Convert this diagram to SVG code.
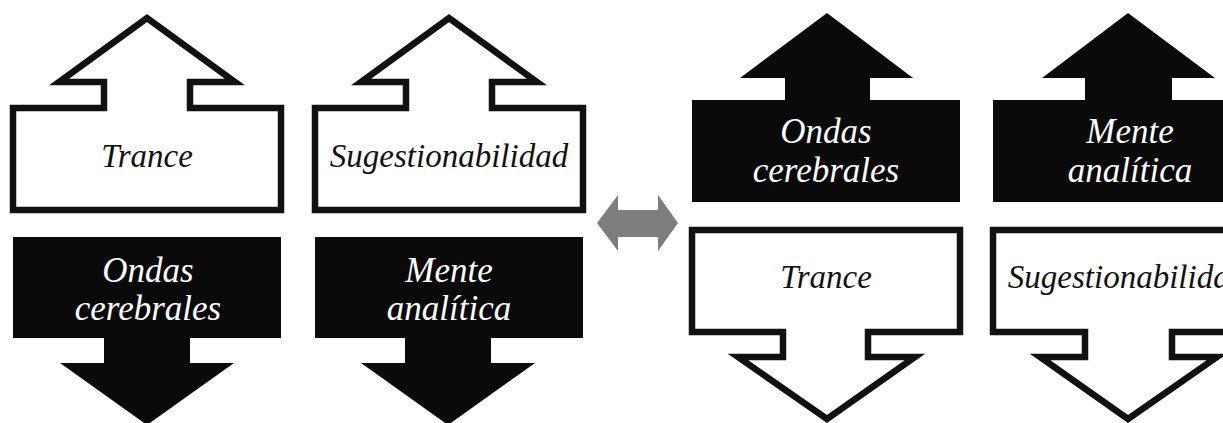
<svg xmlns="http://www.w3.org/2000/svg" width="1223" height="423" viewBox="0 0 1223 423">
<style>
.out{fill:#fff;stroke:#111;stroke-width:6.5;stroke-linejoin:miter;stroke-miterlimit:10}
.blk{fill:#0a0a0a}
.t{font-family:"Liberation Serif","Times New Roman",serif;font-style:italic;font-size:33px;text-anchor:middle}
.tb{fill:#111}
.tw{fill:#fff;font-size:35px}
</style>
<rect width="1223" height="423" fill="#fff"/>
<g id="trance-up">
<path class="out" d="M13,108 H104 V82 H59 L147,18 L235,82 H190 V108 H281 V210 H13 Z"/>
<text class="t tb" x="147" y="167">Trance</text>
</g>
<g id="sugestionabilidad-up">
<path class="out" d="M315,108 H406 V82 H361 L449,18 L537,82 H492 V108 H583 V210 H315 Z"/>
<text class="t tb" x="449" y="167">Sugestionabilidad</text>
</g>
<g id="ondas-down">
<path class="blk" d="M13,237 H281 V338 H190 V363 H234 L147,425 L60,363 H104 V338 H13 Z"/>
<text class="t tw" x="148" y="282">Ondas</text>
<text class="t tw" x="148" y="320">cerebrales</text>
</g>
<g id="mente-down">
<path class="blk" d="M315,237 H583 V338 H491 V363 H535 L448,425 L361,363 H405 V338 H315 Z"/>
<text class="t tw" x="449" y="282">Mente</text>
<text class="t tw" x="449" y="320">analítica</text>
</g>
<g id="connectors">
<path fill="#7d7d7d" d="M597,223 L618,195 V210 H658 V195 L678,223 L658,251 V237 H618 V251 Z"/>
</g>
<g id="ondas-up">
<path class="blk" d="M740,78 L827,13 L913,78 H870 V100 H960 V202 H692 V100 H785 V78 Z"/>
<text class="t tw" x="826" y="143">Ondas</text>
<text class="t tw" x="826" y="182">cerebrales</text>
</g>
<g id="mente-up">
<path class="blk" d="M1042,78 L1128,13 L1215,78 H1172 V100 H1261 V202 H993 V100 H1085 V78 Z"/>
<text class="t tw" x="1130" y="143">Mente</text>
<text class="t tw" x="1130" y="182">analítica</text>
</g>
<g id="trance-down">
<path class="out" d="M692,230 H960 V332 H868 V357 H915 L827,419 L738,357 H783 V332 H692 Z"/>
<text class="t tb" x="826" y="288">Trance</text>
</g>
<g id="sugestionabilidad-down">
<path class="out" d="M993,230 H1261 V332 H1172 V357 H1217 L1128,419 L1040,357 H1085 V332 H993 Z"/>
<text class="t tb" x="1127" y="288">Sugestionabilidad</text>
</g>
</svg>
